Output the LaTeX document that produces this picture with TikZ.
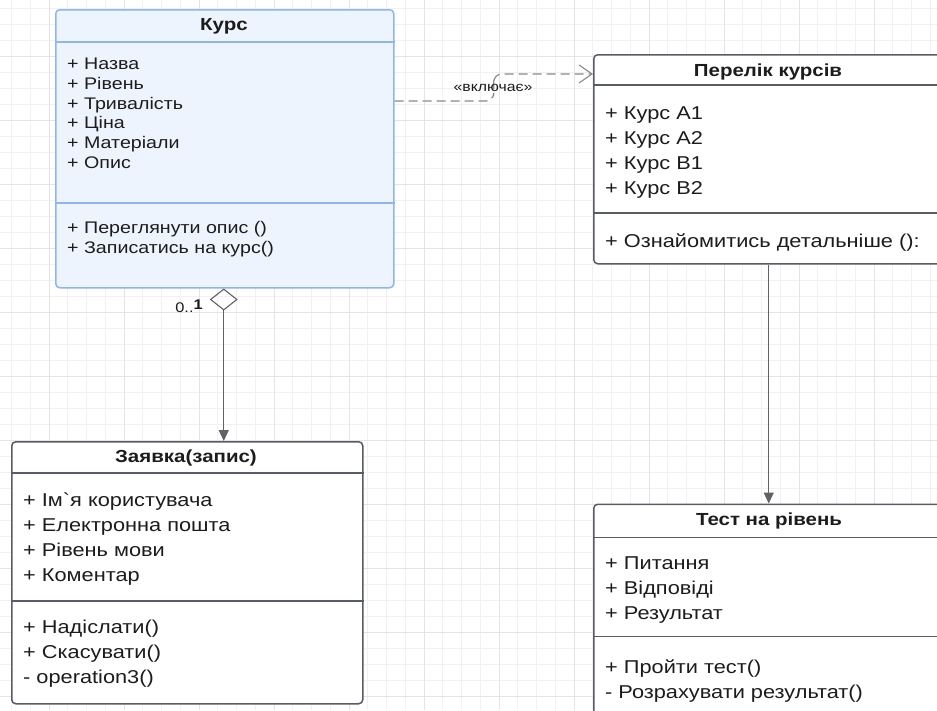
\documentclass[tikz,border=0pt]{standalone}
\usepackage{fontspec}
\setmainfont{Liberation Sans}[FakeStretch=1.17, Ligatures=TeXOff]
\usetikzlibrary{arrows.meta, positioning, calc}
\definecolor{kursblue}{RGB}{141,182,236}
\definecolor{kursfill}{RGB}{238,244,253}
\definecolor{boxgray}{RGB}{88,92,100}
\definecolor{linegray}{RGB}{96,98,104}
\definecolor{dashgray}{RGB}{138,138,140}
\definecolor{gridminor}{RGB}{241,241,241}
\definecolor{gridmajor}{RGB}{228,228,228}
\definecolor{textdark}{RGB}{28,28,30}

\begin{document}
\begin{tikzpicture}[
  x=1pt, y=-1pt,
  classbox/.style = {draw=boxgray, line width=1.5pt, rounded corners=4pt, fill=white, anchor=north west, inner sep=0pt},
  kursbox/.style = {classbox, draw=kursblue, fill=kursfill},
  classtitle/.style = {font=\fontsize{17.5}{20}\selectfont\bfseries, text=textdark},
  members/.style = {font=\fontsize{18.6}{25}\selectfont, text=textdark, align=left, anchor=north west, inner sep=0pt},
  kursmembers/.style = {members, font=\fontsize{16.8}{19.7}\selectfont},
  sepline/.style = {draw=boxgray, line width=1.5pt},
  kurssep/.style = {draw=kursblue, line width=1.4pt},
  includes/.style = {draw=dashgray, line width=1.2pt, dash pattern=on 9pt off 5pt, rounded corners=8pt,
    -{Straight Barb[length=13pt, width=18pt, line width=1.1pt]}},
  aggregation/.style = {draw=linegray, line width=1.2pt,
    {Diamond[open, length=22pt, width=28pt, line width=1.1pt]}-{Triangle[length=11pt, width=10pt]}},
  assoc/.style = {draw=linegray, line width=1.2pt, -{Triangle[length=11pt, width=10pt]}},
  mult/.style = {font=\fontsize{14}{16}\selectfont, text=textdark, inner sep=0pt}
]
  \useasboundingbox (0,0) rectangle (937,710);
  \clip (0,0) rectangle (937,710);
  \fill[white] (0,0) rectangle (937,710);

  % background grid
  \foreach \i in {0,...,49} \draw[gridminor, line width=0.8pt] ({11.5+18.75*\i},0) -- ++(0,710);
  \foreach \j in {0,...,44} \draw[gridminor, line width=0.8pt] (0,{8.7+16*\j}) -- ++(937,0);
  \foreach \i in {0,...,12} \draw[gridmajor, line width=0.9pt] ({49+75*\i},0) -- ++(0,710);
  \foreach \j in {0,...,11} \draw[gridmajor, line width=0.9pt] (0,{56.7+64*\j}) -- ++(937,0);

  % classes
  \node[kursbox, minimum width=338, minimum height=278] (kurs) at (55,9) {};
  \draw[kurssep] ([yshift=-33pt]kurs.north west) -- ([yshift=-33pt]kurs.north east);
  \draw[kurssep] ([yshift=-194pt]kurs.north west) -- ([yshift=-194pt]kurs.north east);
  \node[classtitle] (kursT) at (224,26) {Курс};
  \node[kursmembers] (kursA) at (67,58) {+ Назва\\+ Рівень\\+ Тривалість\\+ Ціна\\+ Матеріали\\+ Опис};
  \node[kursmembers] (kursO) at (67,221.5) {+ Переглянути опис ()\\+ Записатись на курс()};

  \node[classbox, minimum width=350, minimum height=209] (perelik) at (593,54) {};
  \draw[sepline] ([yshift=-31pt]perelik.north west) -- ([yshift=-31pt]perelik.north east);
  \draw[sepline] ([yshift=-159pt]perelik.north west) -- ([yshift=-159pt]perelik.north east);
  \node[classtitle] (perelikT) at (768,72) {Перелік курсів};
  \node[members] (perelikA) at (605,106) {+ Курс A1\\+ Курс A2\\+ Курс B1\\+ Курс B2};
  \node[members] (perelikO) at (605,233) {+ Ознайомитись детальніше ():};

  \node[classbox, minimum width=351, minimum height=262] (zayavka) at (11,441) {};
  \draw[sepline] ([yshift=-32pt]zayavka.north west) -- ([yshift=-32pt]zayavka.north east);
  \draw[sepline] ([yshift=-160pt]zayavka.north west) -- ([yshift=-160pt]zayavka.north east);
  \node[classtitle] (zayavkaT) at (186,457.5) {Заявка(запис)};
  \node[members] (zayavkaA) at (23,493) {+ Ім`я користувача\\+ Електронна пошта\\+ Рівень мови\\+ Коментар};
  \node[members] (zayavkaO) at (23,619.5) {+ Надіслати()\\+ Скасувати()\\- operation3()};

  \node[classbox, minimum width=350, minimum height=240] (test) at (593,503.5) {};
  \draw[sepline] ([yshift=-34pt]test.north west) -- ([yshift=-34pt]test.north east);
  \draw[sepline] ([yshift=-133pt]test.north west) -- ([yshift=-133pt]test.north east);
  \node[classtitle] (testT) at (769,521) {Тест на рівень};
  \node[members] (testA) at (605,556.5) {+ Питання\\+ Відповіді\\+ Результат};
  \node[members] (testO) at (605,659.5) {+ Пройти тест()\\- Розрахувати результат()};

  % relations
  \draw[includes] ([yshift=-92pt]kurs.north east) -| ($(kurs.north east)!0.5!(perelik.north west)+(0,56)$)
    |- ([yshift=-20pt]perelik.north west);
  \node[font=\fontsize{13.5}{16}\selectfont, text=textdark] (inclabel) at (493,88) {«включає»};

  \draw[aggregation] ([xshift=-1pt]kurs.south) -- ([xshift=-1pt]kurs.south |- zayavka.north);
  \node[mult] (multa) at (189,306) {0..\raisebox{3pt}{\bfseries 1}};

  \draw[assoc] (perelik.south) -- (test.north);
\end{tikzpicture}
\end{document}
